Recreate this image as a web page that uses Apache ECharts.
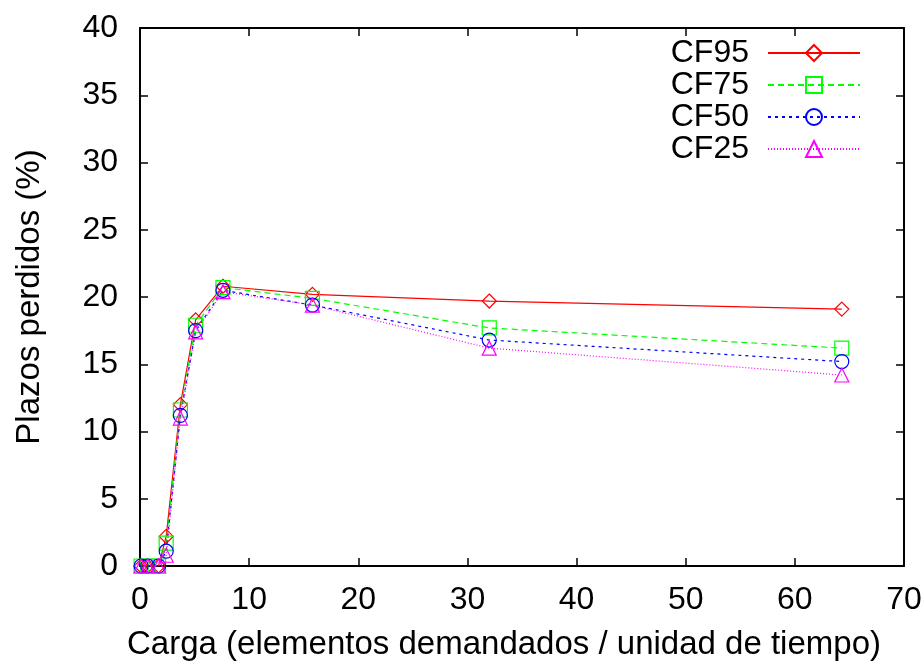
<!DOCTYPE html>
<html>
<head>
<meta charset="utf-8">
<script src="https://cdn.jsdelivr.net/npm/echarts@6/dist/echarts.min.js"></script>
<style>
  html, body { margin: 0; padding: 0; background: #fff; }
  #chart { width: 923px; height: 661px; }
</style>
</head>
<body>
<div id="chart"></div>
<script>
// carga (x) and plazos perdidos for each CF
var carga = [0.1, 0.7, 1.7, 2.4, 3.7, 5.1, 7.6, 15.8, 32, 64.3];
var cf95 = [0, 0, 0, 2.2, 12.0, 18.3, 20.8, 20.2, 19.7, 19.1];
var cf75 = [0, 0, 0, 1.7, 11.6, 17.9, 20.7, 19.9, 17.7, 16.2];
var cf50 = [0, 0, 0, 1.1, 11.2, 17.5, 20.5, 19.4, 16.8, 15.2];
var cf25 = [0, 0, 0, 0.8, 11.0, 17.4, 20.4, 19.4, 16.2, 14.2];
var names = ['CF95', 'CF75', 'CF50', 'CF25'];

var font = 'Liberation Sans, Arial, Helvetica, sans-serif';

function pairs(ys) {
    var out = [];
    for (var i = 0; i < carga.length; i++) out.push([carga[i], ys[i]]);
    return out;
}

function mkSeries(name, ys, color, symbol, dash) {
    return {
        name: name,
        type: 'line',
        data: pairs(ys),
        symbol: symbol,
        symbolSize: 14,
        showAllSymbol: true,
        itemStyle: { color: 'rgba(255,255,255,0)', borderColor: color, borderWidth: 1.2 },
        lineStyle: { color: color, width: 1.2, type: dash },
        emphasis: { disabled: true },
        animation: false
    };
}

var myChart = echarts.init(document.getElementById('chart'));

var tickStyle = { inside: true, length: 8, lineStyle: { color: '#000', width: 1.5 } };
var lineStyle = { show: true, onZero: false, lineStyle: { color: '#000', width: 2 } };

option = {
    backgroundColor: '#fff',
    textStyle: { fontFamily: font },
    grid: { left: 140, right: 19, top: 28, bottom: 95, outerBoundsMode: 'none', containLabel: false },
    legend: {
        data: names,
        orient: 'vertical',
        right: 57,
        top: 32,
        align: 'right',
        itemWidth: 92,
        itemHeight: 20,
        itemGap: 0,
        textStyle: { fontFamily: font, fontSize: 32, color: '#000', lineHeight: 32, padding: [0, 14, 0, 0] }
    },
    xAxis: [{
        type: 'value',
        min: 0, max: 70, interval: 10,
        name: 'Carga (elementos demandados / unidad de tiempo)',
        nameLocation: 'middle',
        nameGap: 62,
        nameTextStyle: { fontFamily: font, fontSize: 33, color: '#000', padding: [0, 36, 0, 0] },
        axisLine: lineStyle,
        axisTick: tickStyle,
        axisLabel: { fontFamily: font, fontSize: 32, color: '#000', margin: 18 },
        splitLine: { show: false }
    }, {
        type: 'value',
        position: 'top',
        min: 0, max: 70, interval: 10,
        axisLine: lineStyle,
        axisTick: tickStyle,
        axisLabel: { show: false },
        splitLine: { show: false }
    }],
    yAxis: [{
        type: 'value',
        min: 0, max: 40, interval: 5,
        name: 'Plazos perdidos (%)',
        nameLocation: 'middle',
        nameGap: 94,
        nameTextStyle: { fontFamily: font, fontSize: 33, color: '#000' },
        axisLine: lineStyle,
        axisTick: tickStyle,
        axisLabel: { fontFamily: font, fontSize: 32, color: '#000', margin: 22 },
        splitLine: { show: false }
    }, {
        type: 'value',
        position: 'right',
        min: 0, max: 40, interval: 5,
        axisLine: lineStyle,
        axisTick: tickStyle,
        axisLabel: { show: false },
        splitLine: { show: false }
    }],
    series: [
        mkSeries('CF95', cf95, '#ff0000', 'diamond', 'solid'),
        mkSeries('CF75', cf75, '#00ff00', 'rect', [6, 4]),
        mkSeries('CF50', cf50, '#0000ff', 'circle', [3, 4]),
        mkSeries('CF25', cf25, '#ff00ff', 'triangle', [1, 2])
    ]
};
myChart.setOption(option);
</script>
</body>
</html>
